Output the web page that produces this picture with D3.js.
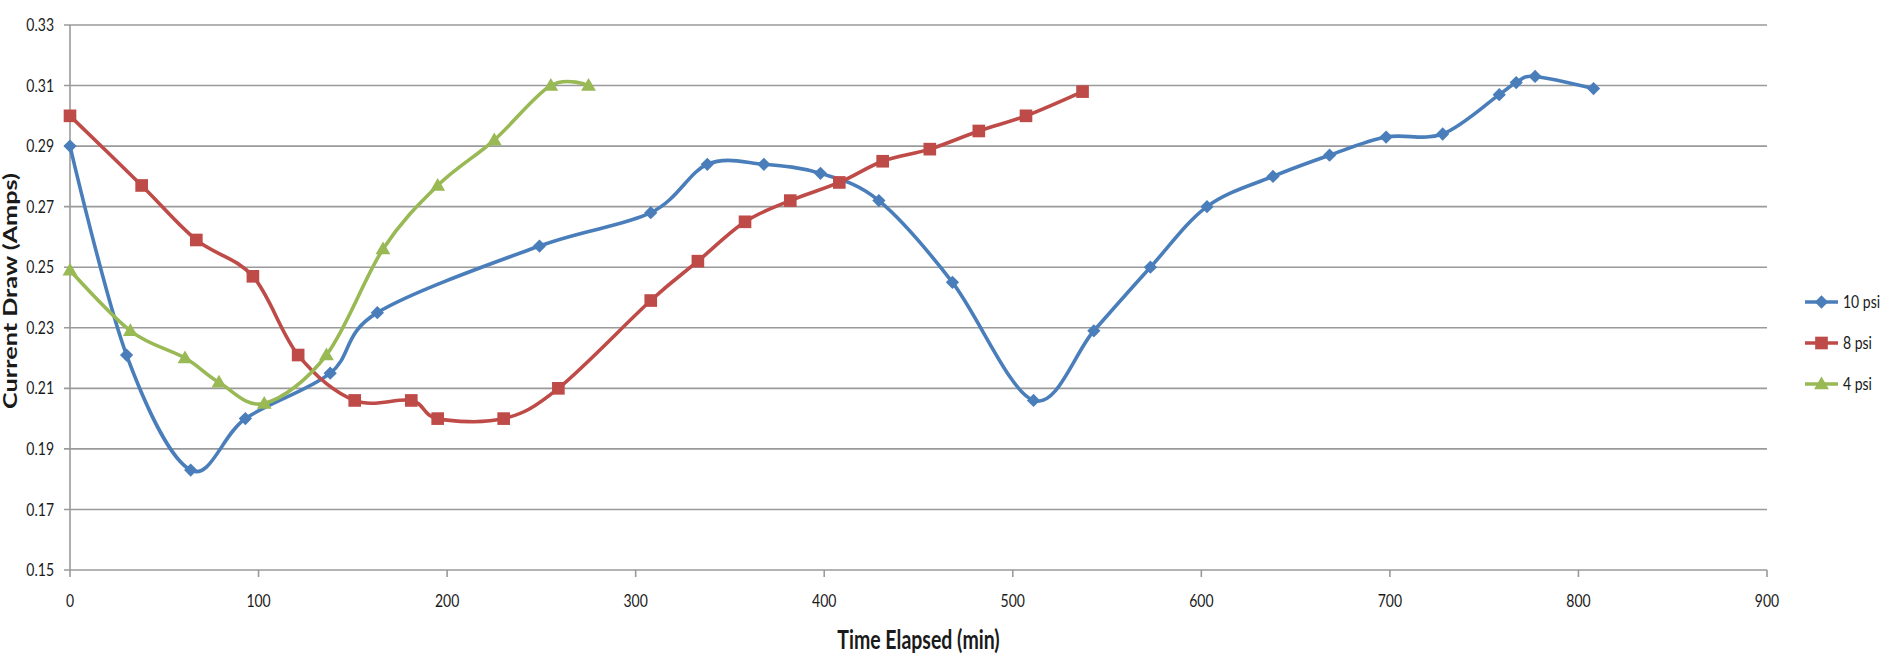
<!DOCTYPE html>
<html>
<head>
<meta charset="utf-8">
<script src="https://cdn.jsdelivr.net/npm/d3@7"></script>
<style>
  html, body { margin: 0; padding: 0; background: #fff; }
  svg { display: block; }
  text { font-family: Lato, "Open Sans", sans-serif; fill: #1a1a1a; }
</style>
</head>
<body>
<svg id="chart" width="1886" height="654"></svg>
<script>
// ---- data ----
const seriesNames = ["10 psi", "8 psi", "4 psi"];
const seriesColors = ["#4A7EBB", "#BE4B48", "#98B954"];

const time10 = [0, 30, 64, 93, 138, 163, 249, 308, 338, 368, 398, 429, 468, 511, 543, 573, 603, 638, 668, 698, 728, 758, 767, 777, 808];
const amps10 = [0.290, 0.221, 0.183, 0.200, 0.215, 0.235, 0.257, 0.268, 0.284, 0.284, 0.281, 0.272, 0.245, 0.206, 0.229, 0.250, 0.270, 0.280, 0.287, 0.293, 0.294, 0.307, 0.311, 0.313, 0.309];

const time8 = [0, 38, 67, 97, 121, 151, 181, 195, 230, 259, 308, 333, 358, 382, 408, 431, 456, 482, 507, 537];
const amps8 = [0.300, 0.277, 0.259, 0.247, 0.221, 0.206, 0.206, 0.200, 0.200, 0.210, 0.239, 0.252, 0.265, 0.272, 0.278, 0.285, 0.289, 0.295, 0.300, 0.308];

const time4 = [0, 32, 61, 79, 103, 136, 166, 195, 225, 255, 275];
const amps4 = [0.249, 0.229, 0.220, 0.212, 0.205, 0.221, 0.256, 0.277, 0.292, 0.310, 0.310];

const xTicks = [0, 100, 200, 300, 400, 500, 600, 700, 800, 900];
const yTicks = [0.15, 0.17, 0.19, 0.21, 0.23, 0.25, 0.27, 0.29, 0.31, 0.33];

const xTitle = "Time Elapsed (min)";
const yTitle = "Current Draw (Amps)";

// ---- layout ----
const svg = d3.select("#chart");
const pLeft = 70, pRight = 1767, pTop = 25, pBottom = 570;
const x = d3.scaleLinear().domain([0, 900]).range([pLeft, pRight]);
const y = d3.scaleLinear().domain([0.15, 0.33]).range([pBottom, pTop]);

const gridColor = "#9a9a9a";

// gridlines
svg.append("g").selectAll("line").data(yTicks).join("line")
  .attr("x1", pLeft - 6).attr("x2", pRight)
  .attr("y1", d => y(d)).attr("y2", d => y(d))
  .attr("stroke", gridColor).attr("stroke-width", 1.6);

// y axis line
svg.append("line").attr("x1", pLeft).attr("x2", pLeft).attr("y1", pTop).attr("y2", pBottom)
  .attr("stroke", gridColor).attr("stroke-width", 1.6);

// x ticks
svg.append("g").selectAll("line").data(xTicks).join("line")
  .attr("x1", d => x(d)).attr("x2", d => x(d))
  .attr("y1", pBottom).attr("y2", pBottom + 7)
  .attr("stroke", gridColor).attr("stroke-width", 1.6);

// y tick labels
svg.append("g").selectAll("text").data(yTicks).join("text")
  .attr("transform", d => `translate(54,${y(d)}) scale(1,1.25)`)
  .attr("text-anchor", "end").attr("dy", "0.35em")
  .style("font-size", "14px")
  .text(d => d3.format(".2f")(d));

// x tick labels
svg.append("g").selectAll("text").data(xTicks).join("text")
  .attr("transform", d => `translate(${x(d)},601) scale(1,1.25)`)
  .attr("text-anchor", "middle").attr("dy", "0.35em")
  .style("font-size", "14px")
  .text(d => d);

// axis titles
svg.append("text")
  .attr("transform", `translate(${(pLeft + pRight) / 2},640) scale(1,1.35)`)
  .attr("text-anchor", "middle").attr("dy", "0.35em")
  .style("font-size", "19.5px").style("font-weight", "bold")
  .text(xTitle);

svg.append("text")
  .attr("transform", `translate(11,291) rotate(-90) scale(1.4,1)`)
  .attr("text-anchor", "middle").attr("dy", "0.35em")
  .style("font-size", "18px").style("font-weight", "bold")
  .text(yTitle);

// series
const series = [
  { name: seriesNames[0], color: seriesColors[0], t: time10, a: amps10, sym: "diamond" },
  { name: seriesNames[1], color: seriesColors[1], t: time8, a: amps8, sym: "square" },
  { name: seriesNames[2], color: seriesColors[2], t: time4, a: amps4, sym: "triangle" }
];

const line = d3.line().x(d => x(d[0])).y(d => y(d[1])).curve(d3.curveCardinal.tension(0));

function symbolPath(kind) {
  if (kind === "diamond") return d3.symbol().type(d3.symbolSquare).size(88)();
  if (kind === "square") return d3.symbol().type(d3.symbolSquare).size(160)();
  return d3.symbol().type(d3.symbolTriangle).size(95)();
}
function symbolTransform(kind, px, py) {
  if (kind === "diamond") return `translate(${px},${py}) rotate(45)`;
  if (kind === "triangle") return `translate(${px},${py + 1})`;
  return `translate(${px},${py})`;
}

series.forEach(s => {
  const pts = s.t.map((t, i) => [t, s.a[i]]);
  const g = svg.append("g");
  g.append("path").attr("d", line(pts))
    .attr("fill", "none").attr("stroke", s.color).attr("stroke-width", 3.6)
    .attr("stroke-linejoin", "round").attr("stroke-linecap", "round");
  g.selectAll("path.m").data(pts).join("path").attr("class", "m")
    .attr("d", symbolPath(s.sym))
    .attr("transform", d => symbolTransform(s.sym, x(d[0]), y(d[1])))
    .attr("fill", s.color);
});

// legend
const legend = svg.append("g");
series.forEach((s, i) => {
  const ly = 302 + i * 41;
  legend.append("line").attr("x1", 1805).attr("x2", 1838).attr("y1", ly).attr("y2", ly)
    .attr("stroke", s.color).attr("stroke-width", 3.6);
  legend.append("path").attr("d", symbolPath(s.sym))
    .attr("transform", symbolTransform(s.sym, 1821.5, ly)).attr("fill", s.color);
  legend.append("text")
    .attr("transform", `translate(1843,${ly}) scale(1,1.25)`)
    .attr("dy", "0.35em").style("font-size", "14px")
    .text(s.name);
});
</script>
</body>
</html>
